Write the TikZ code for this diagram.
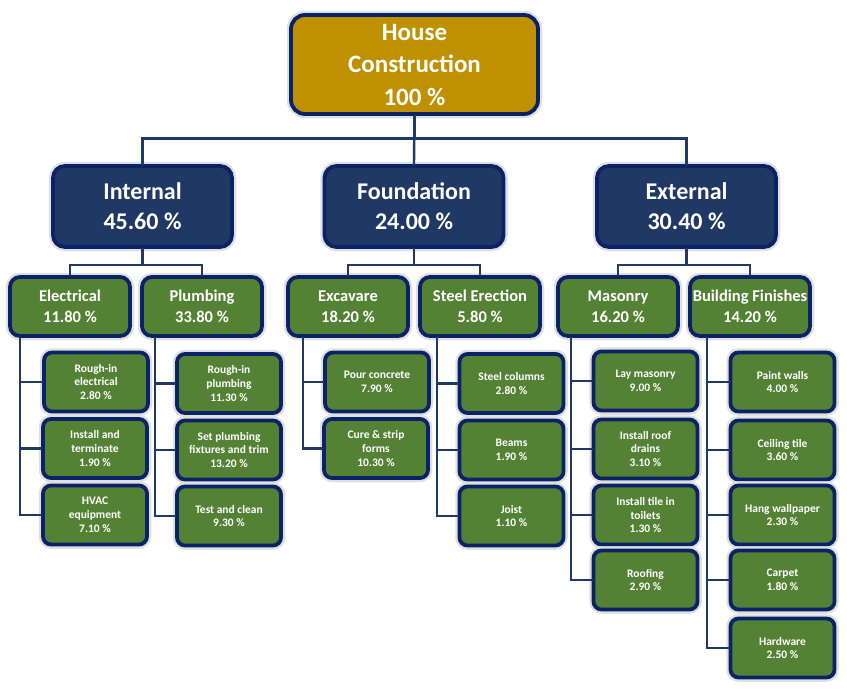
\documentclass[tikz,border=0pt]{standalone}
\usepackage{fontspec}
\setmainfont{Carlito}
\definecolor{gold}{HTML}{BF9000}
\definecolor{navyfill}{HTML}{203864}
\definecolor{navyline}{HTML}{0A2366}
\definecolor{leaf}{HTML}{548235}
\definecolor{glow}{HTML}{E0E0E0}
\tikzset{
  box/.style={draw=navyline, line width=3.8pt, text=white, align=center, inner sep=0pt,
    preaction={draw=glow, line width=8.5pt}},
  rootbox/.style={box, fill=gold, rounded corners=14pt, minimum width=247pt, minimum height=99pt,
    font=\fontsize{25}{32.5}\selectfont\bfseries},
  lonebox/.style={box, fill=navyfill, rounded corners=12pt, minimum width=179pt, minimum height=81pt,
    font=\fontsize{24}{30}\selectfont\bfseries, execute at begin node={\rule{0pt}{25pt}}},
  ltwobox/.style={box, fill=leaf, rounded corners=10pt, minimum width=120pt, minimum height=59pt,
    font=\fontsize{16.5}{20.5}\selectfont\bfseries, execute at begin node={\rule{0pt}{15pt}}},
  leafbox/.style={box, fill=leaf, rounded corners=8pt, minimum width=104pt, minimum height=59pt,
    font=\fontsize{11.5}{13.8}\selectfont\bfseries},
  conn/.style={draw=navyfill, line width=2.4pt, line cap=rect}
}
\begin{document}
\begin{tikzpicture}[x=1pt,y=-1pt]
\useasboundingbox (0,0) rectangle (847,689);
% nodes
\node[rootbox] (root) at (414.5,64.5) {House\\Construction\\100 \%};
\node[lonebox] (int) at (142.5,206.5) {Internal\\45.60 \%};
\node[lonebox] (fnd) at (414,206.5) {Foundation\\24.00 \%};
\node[lonebox] (ext) at (686.5,206.5) {External\\30.40 \%};

\node[ltwobox] (elec) at (70,306.5) {Electrical\\11.80 \%};
\node[ltwobox] (plmb) at (202,306.5) {Plumbing\\33.80 \%};
\node[ltwobox] (exc) at (348,306.5) {Excavare\\18.20 \%};
\node[ltwobox] (stl) at (480,306.5) {Steel Erection\\5.80 \%};
\node[ltwobox] (mas) at (618,306.5) {Masonry\\16.20 \%};
\node[ltwobox] (bf) at (750,306.5) {Building Finishes\\14.20 \%};

\node[leafbox] (e1) at (96,382) {Rough-in\\electrical\\2.80 \%};
\node[leafbox] (e2) at (95,448.5) {Install and\\terminate\\1.90 \%};
\node[leafbox] (e3) at (95,515) {HVAC\\equipment\\7.10 \%};

\node[leafbox] (p1) at (229,383.5) {Rough-in\\plumbing\\11.30 \%};
\node[leafbox] (p2) at (229,450) {Set plumbing\\fixtures and trim\\13.20 \%};
\node[leafbox] (p3) at (229,516) {Test and clean\\9.30 \%};

\node[leafbox] (x1) at (377,382) {Pour concrete\\7.90 \%};
\node[leafbox] (x2) at (376,448.5) {Cure \& strip\\forms\\10.30 \%};

\node[leafbox] (s1) at (511.5,383.5) {Steel columns\\2.80 \%};
\node[leafbox] (s2) at (511.5,450) {Beams\\1.90 \%};
\node[leafbox] (s3) at (511.5,516) {Joist\\1.10 \%};

\node[leafbox] (m1) at (645.5,381) {Lay masonry\\9.00 \%};
\node[leafbox] (m2) at (645.5,449) {Install roof\\drains\\3.10 \%};
\node[leafbox] (m3) at (645.5,515) {Install tile in\\toilets\\1.30 \%};
\node[leafbox] (m4) at (645.5,580) {Roofing\\2.90 \%};

\node[leafbox] (b1) at (782.5,382) {Paint walls\\4.00 \%};
\node[leafbox] (b2) at (782.5,450) {Ceiling tile\\3.60 \%};
\node[leafbox] (b3) at (782.5,515) {Hang wallpaper\\2.30 \%};
\node[leafbox] (b4) at (782.5,580) {Carpet\\1.80 \%};
\node[leafbox] (b5) at (782.5,648) {Hardware\\2.50 \%};

% level 0 -> 1
\draw[conn] (root.south) -- ++(0,22.5) -| (int.north);
\draw[conn] (root.south) -- (fnd.north);
\draw[conn] (root.south) -- ++(0,22.5) -| (ext.north);
% level 1 -> 2
\draw[conn] (int.south) -- ++(0,16) -| (elec.north);
\draw[conn] (int.south) -- ++(0,16) -| (plmb.north);
\draw[conn] (fnd.south) -- ++(0,16) -| (exc.north);
\draw[conn] (fnd.south) -- ++(0,16) -| (stl.north);
\draw[conn] (ext.south) -- ++(0,16) -| (mas.north);
\draw[conn] (ext.south) -- ++(0,16) -| (bf.north);
% level 2 -> 3
\foreach \c in {e1,e2,e3} \draw[conn] ([xshift=12pt]elec.south west) |- (\c.west);
\foreach \c in {p1,p2,p3} \draw[conn] ([xshift=15pt]plmb.south west) |- (\c.west);
\foreach \c in {x1,x2} \draw[conn] ([xshift=17pt]exc.south west) |- (\c.west);
\foreach \c in {s1,s2,s3} \draw[conn] ([xshift=19pt]stl.south west) |- (\c.west);
\foreach \c in {m1,m2,m3,m4} \draw[conn] ([xshift=15pt]mas.south west) |- (\c.west);
\foreach \c in {b1,b2,b3,b4,b5} \draw[conn] ([xshift=19pt]bf.south west) |- (\c.west);
\end{tikzpicture}
\end{document}
